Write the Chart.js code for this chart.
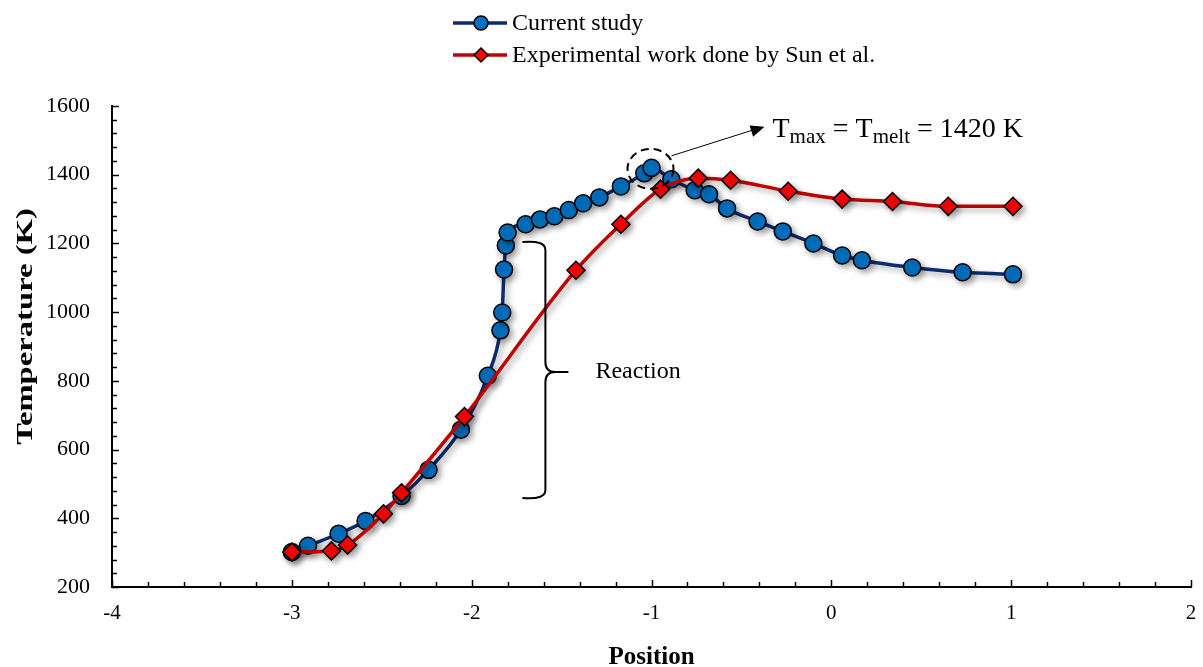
<!DOCTYPE html>
<html>
<head>
<meta charset="utf-8">
<script src="https://cdn.jsdelivr.net/npm/chart.js@4/dist/chart.umd.min.js"></script>
<style>
  html, body { margin: 0; padding: 0; background: #fff; }
  #wrap { width: 1203px; height: 667px; }
</style>
</head>
<body>
<div id="wrap"><canvas id="plot" width="1203" height="667"></canvas></div>
<script>
// Current study
const studyPos = [-3.00, -2.91, -2.74, -2.59, -2.39, -2.24, -2.06, -1.91, -1.84, -1.83, -1.82, -1.81, -1.80,
  -1.70, -1.62, -1.54, -1.46, -1.38, -1.29, -1.17, -1.04, -1.00, -0.89, -0.76, -0.68, -0.58, -0.41,
  -0.27, -0.10, 0.06, 0.17, 0.45, 0.73, 1.01];
const studyTemp = [302, 320, 355, 392, 465, 541, 658, 815, 947, 999, 1124, 1194, 1232,
  1256, 1270, 1279, 1297, 1317, 1334, 1366, 1404, 1420, 1387, 1355, 1343, 1302, 1264,
  1235, 1200, 1165, 1151, 1130, 1116, 1110];

// Experimental work done by Sun et al.
const sunPos = [-3.00, -2.78, -2.69, -2.49, -2.39, -2.04, -1.42, -1.17, -0.95, -0.74, -0.56, -0.24, 0.06, 0.34, 0.65, 1.01];
const sunTemp = [302, 305, 322, 413, 474, 696, 1122, 1256, 1358, 1390, 1384, 1352, 1329, 1322, 1308, 1308];

const xTicks = [-4, -3, -2, -1, 0, 1, 2];
const yTicks = [200, 400, 600, 800, 1000, 1200, 1400, 1600];

const serif = "'Liberation Serif', 'Times New Roman', serif";

function toPoints(xs, ys) {
  return xs.map((x, i) => ({x: x, y: ys[i]}));
}

// inward tick marks like the original
const tickPlugin = {
  id: 'ticks',
  afterDraw(chart) {
    const ctx = chart.ctx, xs = chart.scales.x, ys = chart.scales.y, a = chart.chartArea;
    ctx.save();
    ctx.strokeStyle = '#000';
    ctx.lineWidth = 1.5;
    ctx.beginPath();
    for (let i = 0; i <= 30; i++) {
      const v = xs.min + i * 0.2;
      const px = Math.round(xs.getPixelForValue(v)) + 0.5;
      const len = i % 5 === 0 ? 7 : 5;
      ctx.moveTo(px, a.bottom);
      ctx.lineTo(px, a.bottom - len);
    }
    for (let i = 0; i <= 35; i++) {
      const v = ys.min + i * 40;
      const py = Math.round(ys.getPixelForValue(v)) + 0.5;
      const len = i % 5 === 0 ? 7 : 5;
      ctx.moveTo(a.left, py);
      ctx.lineTo(a.left + len, py);
    }
    ctx.stroke();

    // y title, stretched along its length like the original
    ctx.fillStyle = '#000';
    ctx.font = 'bold 23px ' + serif;
    ctx.textAlign = 'center';
    ctx.textBaseline = 'middle';
    ctx.translate(26, (a.top + a.bottom) / 2 - 20);
    ctx.rotate(-Math.PI / 2);
    ctx.scale(1.42, 1);
    ctx.fillText('Temperature (K)', 0, 0);
    ctx.restore();
  }
};

// soft marker shadows
const shadowPlugin = {
  id: 'shadow',
  beforeDatasetsDraw(chart) {
    const ctx = chart.ctx;
    ctx.save();
    ctx.shadowColor = 'rgba(0,0,0,0.35)';
    ctx.shadowBlur = 6;
    ctx.shadowOffsetX = 3;
    ctx.shadowOffsetY = 3;
  },
  afterDatasetsDraw(chart) {
    chart.ctx.restore();
  }
};

const legendPlugin = {
  id: 'customLegend',
  afterDraw(chart) {
    const ctx = chart.ctx;
    const items = [
      {text: 'Current study', line: '#0d2c6c', fill: '#0070C0', shape: 'circle', y: 23},
      {text: 'Experimental work done by Sun et al.', line: '#C00000', fill: '#FF0000', shape: 'diamond', y: 55}
    ];
    ctx.save();
    items.forEach(it => {
      ctx.strokeStyle = it.line;
      ctx.lineWidth = 3.5;
      ctx.beginPath();
      ctx.moveTo(453, it.y);
      ctx.lineTo(507, it.y);
      ctx.stroke();
      ctx.fillStyle = it.fill;
      ctx.strokeStyle = '#000';
      ctx.lineWidth = 1.5;
      ctx.beginPath();
      if (it.shape === 'circle') {
        ctx.arc(481, it.y, 7, 0, Math.PI * 2);
      } else {
        ctx.moveTo(481, it.y - 7); ctx.lineTo(488, it.y); ctx.lineTo(481, it.y + 7); ctx.lineTo(474, it.y); ctx.closePath();
      }
      ctx.fill();
      ctx.stroke();
      ctx.fillStyle = '#000';
      ctx.font = '24px ' + serif;
      ctx.textBaseline = 'middle';
      ctx.fillText(it.text, 512, it.y + 1);
    });
    ctx.restore();
  }
};

const notePlugin = {
  id: 'notes',
  afterDraw(chart) {
    const ctx = chart.ctx, xs = chart.scales.x, ys = chart.scales.y;
    // peak of current study
    let k = 0;
    studyTemp.forEach((t, i) => { if (t > studyTemp[k]) k = i; });
    const cx = xs.getPixelForValue(studyPos[k]) - 1;
    const cy = ys.getPixelForValue(studyTemp[k]) + 1;
    ctx.save();
    ctx.strokeStyle = '#000';
    ctx.lineWidth = 2;
    ctx.setLineDash([8, 5]);
    ctx.beginPath();
    ctx.ellipse(cx, cy, 23, 20, 0, 0, Math.PI * 2);
    ctx.stroke();
    ctx.setLineDash([]);
    // arrow
    const x0 = cx + 21, y0 = cy - 13, x1 = cx + 111, y1 = cy - 42;
    ctx.lineWidth = 1;
    ctx.beginPath();
    ctx.moveTo(x0, y0);
    ctx.lineTo(x1 - 8, y1 + 3);
    ctx.stroke();
    const ang = Math.atan2(y1 - y0, x1 - x0);
    ctx.fillStyle = '#000';
    ctx.beginPath();
    ctx.moveTo(x1 + 3, y1);
    ctx.lineTo(x1 + 3 - 15 * Math.cos(ang - 0.4), y1 - 15 * Math.sin(ang - 0.4));
    ctx.lineTo(x1 + 3 - 15 * Math.cos(ang + 0.4), y1 - 15 * Math.sin(ang + 0.4));
    ctx.closePath();
    ctx.fill();
    // T_max = T_melt = 1420 K
    const big = '28px ' + serif;
    const small = '21px ' + serif;
    let tx = cx + 122;
    const base = cy - 32;
    ctx.textBaseline = 'alphabetic';
    const parts = [
      ['T', big, 0], ['max', small, 6], [' = ', big, 0], ['T', big, 0], ['melt', small, 6], [' = 1420 K', big, 0]
    ];
    parts.forEach(p => {
      ctx.font = p[1];
      ctx.fillText(p[0], tx, base + p[2]);
      tx += ctx.measureText(p[0]).width;
    });
    // reaction brace
    const bx = xs.getPixelForValue(-1.59);
    const top = ys.getPixelForValue(1204);
    const bot = ys.getPixelForValue(459);
    const mid = (top + bot) / 2 + 2;
    ctx.lineWidth = 2;
    ctx.beginPath();
    ctx.moveTo(bx - 23, top);
    ctx.quadraticCurveTo(bx, top - 2, bx, top + 8);
    ctx.lineTo(bx, mid - 10);
    ctx.quadraticCurveTo(bx, mid, bx + 10, mid);
    ctx.lineTo(bx + 23, mid);
    ctx.moveTo(bx + 10, mid);
    ctx.quadraticCurveTo(bx, mid, bx, mid + 10);
    ctx.lineTo(bx, bot - 8);
    ctx.quadraticCurveTo(bx, bot + 2, bx - 23, bot);
    ctx.stroke();
    ctx.font = '24px ' + serif;
    ctx.textBaseline = 'middle';
    ctx.fillText('Reaction', bx + 50, mid);
    ctx.restore();
  }
};

const data = {
  datasets: [
    {
      label: 'Current study',
      data: toPoints(studyPos, studyTemp),
      showLine: true,
      cubicInterpolationMode: 'monotone',
      borderColor: '#0d2c6c',
      borderWidth: 3.5,
      pointStyle: 'circle',
      pointRadius: 8.5,
      pointBackgroundColor: '#0070C0',
      pointBorderColor: '#000',
      pointBorderWidth: 1.5,
      order: 2
    },
    {
      label: 'Experimental work done by Sun et al.',
      data: toPoints(sunPos, sunTemp),
      showLine: true,
      cubicInterpolationMode: 'monotone',
      borderColor: '#C00000',
      borderWidth: 3.5,
      pointStyle: 'rectRot',
      pointRadius: 9,
      pointBackgroundColor: '#FF0000',
      pointBorderColor: '#000',
      pointBorderWidth: 1.5,
      order: 1
    }
  ]
};

const config = {
  type: 'scatter',
  data: data,
  options: {
    responsive: false,
    animation: false,
    layout: { padding: { top: 106, right: 0, left: 0, bottom: 0 } },
    plugins: {
      legend: { display: false },
      tooltip: { enabled: false }
    },
    scales: {
      x: {
        type: 'linear',
        min: -4, max: 2,
        afterBuildTicks: s => { s.ticks = xTicks.map(v => ({value: v})); },
        afterFit: s => { s.height = 80; s.paddingRight = 12; },
        grid: { display: false, drawTicks: false },
        border: { display: true, color: '#000', width: 2 },
        ticks: { color: '#000', padding: 14, font: { family: serif, size: 21 }, callback: v => String(v) },
        title: { display: true, text: 'Position', color: '#000', padding: { top: 0, bottom: -6 }, font: { family: serif, size: 25, weight: 'bold' } }
      },
      y: {
        min: 200, max: 1600,
        afterBuildTicks: s => { s.ticks = yTicks.map(v => ({value: v})); },
        afterFit: s => { s.width = 112; },
        grid: { display: false, drawTicks: false },
        border: { display: true, color: '#000', width: 2 },
        ticks: { color: '#000', padding: 22, font: { family: serif, size: 22 }, callback: v => String(v) },
        title: { display: false }
      }
    }
  },
  plugins: [shadowPlugin, tickPlugin, legendPlugin, notePlugin]
};

let ctx = document.getElementById('plot').getContext('2d');
let chart = new Chart(ctx, config);
</script>
</body>
</html>
